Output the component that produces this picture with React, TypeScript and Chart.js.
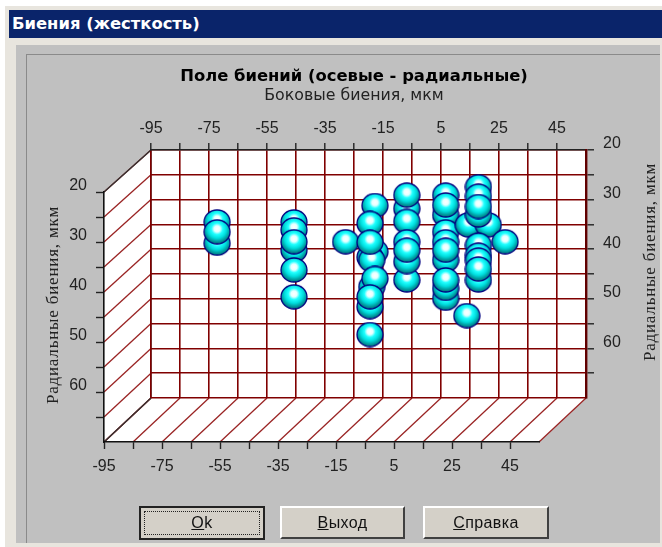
import React, { useEffect, useRef } from "react";
import { Chart, registerables } from "chart.js";

Chart.register(...registerables);

const chartTitle = "Поле биений (осевые - радиальные)";
const topAxisTitle = "Боковые биения, мкм";
const sideAxisTitle = "Радиальные биения, мкм";
const windowTitle = "Биения (жесткость)";

const xBounds = [-95, 55];
const yBounds = [20, 70];
const labelledX = [-95, -75, -55, -35, -15, 5, 25, 45];
const labelledY = [20, 30, 40, 50, 60];

const ballX = [
  -72.2, -72.2, -72.2,
  -45.7, -45.7, -45.7, -45.7, -45.7, -45.7,
  -27.9,
  -19.5, -18.9, -17.8, -17.8, -19.5, -19.5, -18.9, -19.5, -17.8, -19.5, -19.5,
  -6.8, -6.8, -6.8, -6.8, -6.8, -6.8, -6.8,
  6.6, 6.6, 6.6, 6.6, 6.6, 6.6, 6.6, 6.6, 6.6, 6.6,
  14.4, 21.3, 17.9, 17.9, 17.9, 17.9, 17.9, 17.9, 17.9, 17.9, 17.9,
  13.9, 27.1,
];
const ballY = [
  34.5, 38.8, 36.5,
  34.5, 36.1, 40.2, 38.5, 44.2, 49.6,
  38.5,
  51.6, 47.6, 40.5, 31.2, 34.8, 41.6, 42.2, 38.6, 45.9, 49.6, 57.2,
  31.8, 29.1, 34.4, 46.2, 42.5, 38.5, 40.2,
  29.1, 33.1, 31.1, 36.5, 38.5, 42.2, 40.2, 49.9, 47.9, 46.2,
  35.1, 35.1, 27.4, 29.3, 33.1, 31.4, 39.2, 41.2, 42.2, 46.2, 44,
  53.4, 38.5,
];

const GRID = "#800000";
const INK = "#222222";
const AXIS_FONT = { family: "'Liberation Sans'", size: 16 };

function makeBall(): HTMLCanvasElement {
  const c = document.createElement("canvas");
  c.width = 28;
  c.height = 26;
  const g = c.getContext("2d")!;
  const grad = g.createRadialGradient(14, 10, 0, 14, 10, 15);
  grad.addColorStop(0, "#ffffff");
  grad.addColorStop(0.2, "#e6ffff");
  grad.addColorStop(0.38, "#20ffff");
  grad.addColorStop(0.62, "#00dede");
  grad.addColorStop(0.82, "#00a0a4");
  grad.addColorStop(1, "#007078");
  g.fillStyle = grad;
  g.strokeStyle = "#000080";
  g.lineWidth = 1.3;
  g.beginPath();
  g.ellipse(14, 13, 13, 12, 0, 0, Math.PI * 2);
  g.fill();
  g.stroke();
  return c;
}

const frontShift = { dx: -47, dyTop: 42, dyBottom: 44 };

const depthPlugin = {
  id: "depth",
  afterLayout(chart: any) {
    // Move the two front axes on to the front edges of the floor and side wall.
    const { xFront, yFront } = chart.scales;
    yFront.left += frontShift.dx;
    yFront.right += frontShift.dx;
    yFront.top += frontShift.dyTop;
    yFront.bottom += frontShift.dyBottom;
    yFront.height = yFront.bottom - yFront.top;
    xFront.left += frontShift.dx;
    xFront.right += frontShift.dx;
    xFront.top += frontShift.dyBottom;
    xFront.bottom += frontShift.dyBottom;
    yFront.configure();
    xFront.configure();
  },
  beforeDraw(chart: any) {
    const { ctx, chartArea: a, scales } = chart;
    const { x, y, xFront, yFront } = scales;
    const fx = xFront.left;
    const fr = xFront.right;
    const ft = yFront.top;
    const fb = yFront.bottom;
    ctx.save();
    ctx.fillStyle = "#ffffff";
    ctx.fillRect(a.left, a.top, a.width, a.height);
    ctx.beginPath();
    ctx.moveTo(a.left, a.top);
    ctx.lineTo(fx, ft);
    ctx.lineTo(fx, fb);
    ctx.lineTo(fr, fb);
    ctx.lineTo(a.right, a.bottom);
    ctx.lineTo(a.left, a.bottom);
    ctx.closePath();
    ctx.fill();

    ctx.strokeStyle = "#9a2424";
    ctx.lineWidth = 1.3;
    y.ticks.forEach((t: any) => {
      ctx.beginPath();
      ctx.moveTo(a.left, y.getPixelForValue(t.value));
      ctx.lineTo(fx, yFront.getPixelForValue(t.value));
      ctx.stroke();
    });
    x.ticks.forEach((t: any) => {
      ctx.beginPath();
      ctx.moveTo(x.getPixelForValue(t.value), a.bottom);
      ctx.lineTo(xFront.getPixelForValue(t.value), fb);
      ctx.stroke();
    });

    ctx.strokeStyle = "#333333";
    ctx.beginPath();
    ctx.moveTo(a.left, a.top);
    ctx.lineTo(fx, ft);
    ctx.moveTo(a.left, a.bottom);
    ctx.lineTo(fx, fb);
    ctx.stroke();
    ctx.beginPath();
    ctx.strokeStyle = "#222222";
    ctx.moveTo(a.left, a.top);
    ctx.lineTo(a.left, a.bottom);
    ctx.stroke();
    ctx.restore();
  },
  afterDraw(chart: any) {
    const { ctx } = chart;
    ctx.save();
    ctx.fillStyle = INK;
    ctx.font = "17px 'Liberation Serif'";
    (ctx as any).letterSpacing = "0.8px";
    ctx.textAlign = "center";
    ctx.textBaseline = "middle";
    [
      [54, 305],
      [651, 262],
    ].forEach(([px, py]) => {
      ctx.save();
      ctx.translate(px, py);
      ctx.rotate(-Math.PI / 2);
      ctx.fillText(sideAxisTitle, 0, 0);
      ctx.restore();
    });
    ctx.restore();
  },
};

const xLabel = (v: any) => (labelledX.includes(Number(v)) ? String(v) : "");
const yLabel = (v: any) => (labelledY.includes(Number(v)) ? String(v) : "");
const hideLastX = (c: any) => (c.tick && c.tick.value === xBounds[1] ? "transparent" : INK);
const hideLastY = (c: any) => (c.tick && c.tick.value === yBounds[1] ? "transparent" : INK);

function fixedHeight(h: number) {
  return (s: any) => {
    s.height = h;
  };
}
function fixedWidth(w: number) {
  return (s: any) => {
    s.width = w;
  };
}

const Panel: React.FC<{ style: React.CSSProperties; children?: React.ReactNode }> = ({ style, children }) => (
  <div style={{ position: "absolute", boxSizing: "border-box", ...style }}>{children}</div>
);

const raised: React.CSSProperties = {
  background: "#d4d0c8",
  borderTop: "2px solid #ffffff",
  borderLeft: "2px solid #ffffff",
  borderRight: "2px solid #404040",
  borderBottom: "2px solid #404040",
  display: "flex",
  alignItems: "center",
  justifyContent: "center",
  font: "16px 'Liberation Sans'",
  letterSpacing: "0.4px",
  color: "#111",
};

export default function App() {
  const ref = useRef<HTMLCanvasElement>(null);
  useEffect(() => {
    const ball = makeBall();
    const chart = new Chart(ref.current!, {
      type: "scatter",
      data: {
        datasets: [
          {
            data: ballX.map((v, i) => ({ x: v, y: ballY[i] })),
            pointStyle: ball as any,
            clip: false as any,
            xAxisID: "x",
            yAxisID: "y",
          },
        ],
      },
      plugins: [depthPlugin],
      options: {
        animation: false,
        responsive: false,
        events: [],
        layout: { padding: { left: 46, right: 0, top: 68, bottom: 0 } },
        plugins: {
          legend: { display: false },
          tooltip: { enabled: false },
          title: {
            display: true,
            text: chartTitle,
            color: "#000",
            font: { family: "'DejaVu Sans'", size: 16.4, weight: "bold", lineHeight: "18px" },
            padding: { top: 0, bottom: 1 },
          },
          subtitle: {
            display: true,
            text: topAxisTitle,
            color: INK,
            font: { family: "'DejaVu Sans'", size: 15.8, lineHeight: "18px" },
            padding: { top: 0, bottom: 0 },
          },
        },
        scales: {
          x: {
            type: "linear",
            position: "top",
            min: xBounds[0],
            max: xBounds[1],
            afterFit: fixedHeight(45),
            ticks: { stepSize: 10, autoSkip: false, maxRotation: 0, callback: xLabel, color: INK, font: AXIS_FONT, padding: 5 },
            grid: { color: GRID, lineWidth: 1.6, tickColor: hideLastX, tickLength: 7, tickWidth: 1.4 },
            border: { color: "#222", width: 1.4 },
          },
          y: {
            type: "linear",
            position: "right",
            reverse: true,
            min: yBounds[0],
            max: yBounds[1],
            afterFit: fixedWidth(76),
            ticks: { stepSize: 5, autoSkip: false, callback: yLabel, color: INK, font: AXIS_FONT, padding: 9, labelOffset: -6 },
            grid: { color: GRID, lineWidth: 1.6, tickColor: hideLastY, tickLength: 8, tickWidth: 1.4 },
            border: { color: "#600000", width: 2.4 },
          },
          xFront: {
            type: "linear",
            axis: "x",
            position: "bottom",
            min: xBounds[0],
            max: xBounds[1],
            afterFit: fixedHeight(149),
            ticks: { stepSize: 10, autoSkip: false, maxRotation: 0, callback: xLabel, color: INK, font: AXIS_FONT, padding: 8 },
            grid: { drawOnChartArea: false, tickColor: hideLastX, tickLength: 7, tickWidth: 1.4 },
            border: { color: "#111", width: 1.4 },
          },
          yFront: {
            type: "linear",
            axis: "y",
            position: "left",
            reverse: true,
            min: yBounds[0],
            max: yBounds[1],
            afterFit: fixedWidth(105),
            ticks: { stepSize: 5, autoSkip: false, callback: yLabel, color: INK, font: AXIS_FONT, padding: 9, labelOffset: -6 },
            grid: { drawOnChartArea: false, tickColor: hideLastY, tickLength: 8, tickWidth: 1.4 },
            border: { color: "#111", width: 1.6 },
          },
        } as any,
      },
    } as any);
    return () => chart.destroy();
  }, []);

  return (
    <div style={{ position: "fixed", left: 0, top: 0, width: 662, height: 547, overflow: "hidden", background: "#ffffff" }}>
      <Panel style={{ left: 5, top: 6, width: 657, height: 541, background: "#e8e5de" }} />
      <Panel style={{ left: 9, top: 10, width: 653, height: 28, background: "#0a246a", color: "#fff", font: "bold 16.4px 'DejaVu Sans'", lineHeight: "28px", paddingLeft: 3, whiteSpace: "nowrap" }}>
        {windowTitle}
      </Panel>
      <Panel style={{ left: 16, top: 45, width: 644, height: 498, background: "#c0c0c0" }} />
      <Panel style={{ left: 26, top: 54, width: 634, height: 489, borderTop: "1px solid #8a8a8a", borderLeft: "1px solid #8a8a8a" }} />

      <canvas ref={ref} width={662} height={547} style={{ position: "absolute", left: 0, top: 0, width: 662, height: 547 }} />

      <Panel style={{ ...raised, left: 139, top: 506, width: 126, height: 34, border: "2px solid #222", outline: "none" }}>
        <div style={{ position: "absolute", inset: 3, border: "1px dotted #222", display: "flex", alignItems: "center", justifyContent: "center" }}>
          <span><u>O</u>k</span>
        </div>
      </Panel>
      <Panel style={{ ...raised, left: 280, top: 506, width: 125, height: 33 }}>
        <span><u>В</u>ыход</span>
      </Panel>
      <Panel style={{ ...raised, left: 423, top: 506, width: 126, height: 33 }}>
        <span><u>С</u>правка</span>
      </Panel>
    </div>
  );
}
